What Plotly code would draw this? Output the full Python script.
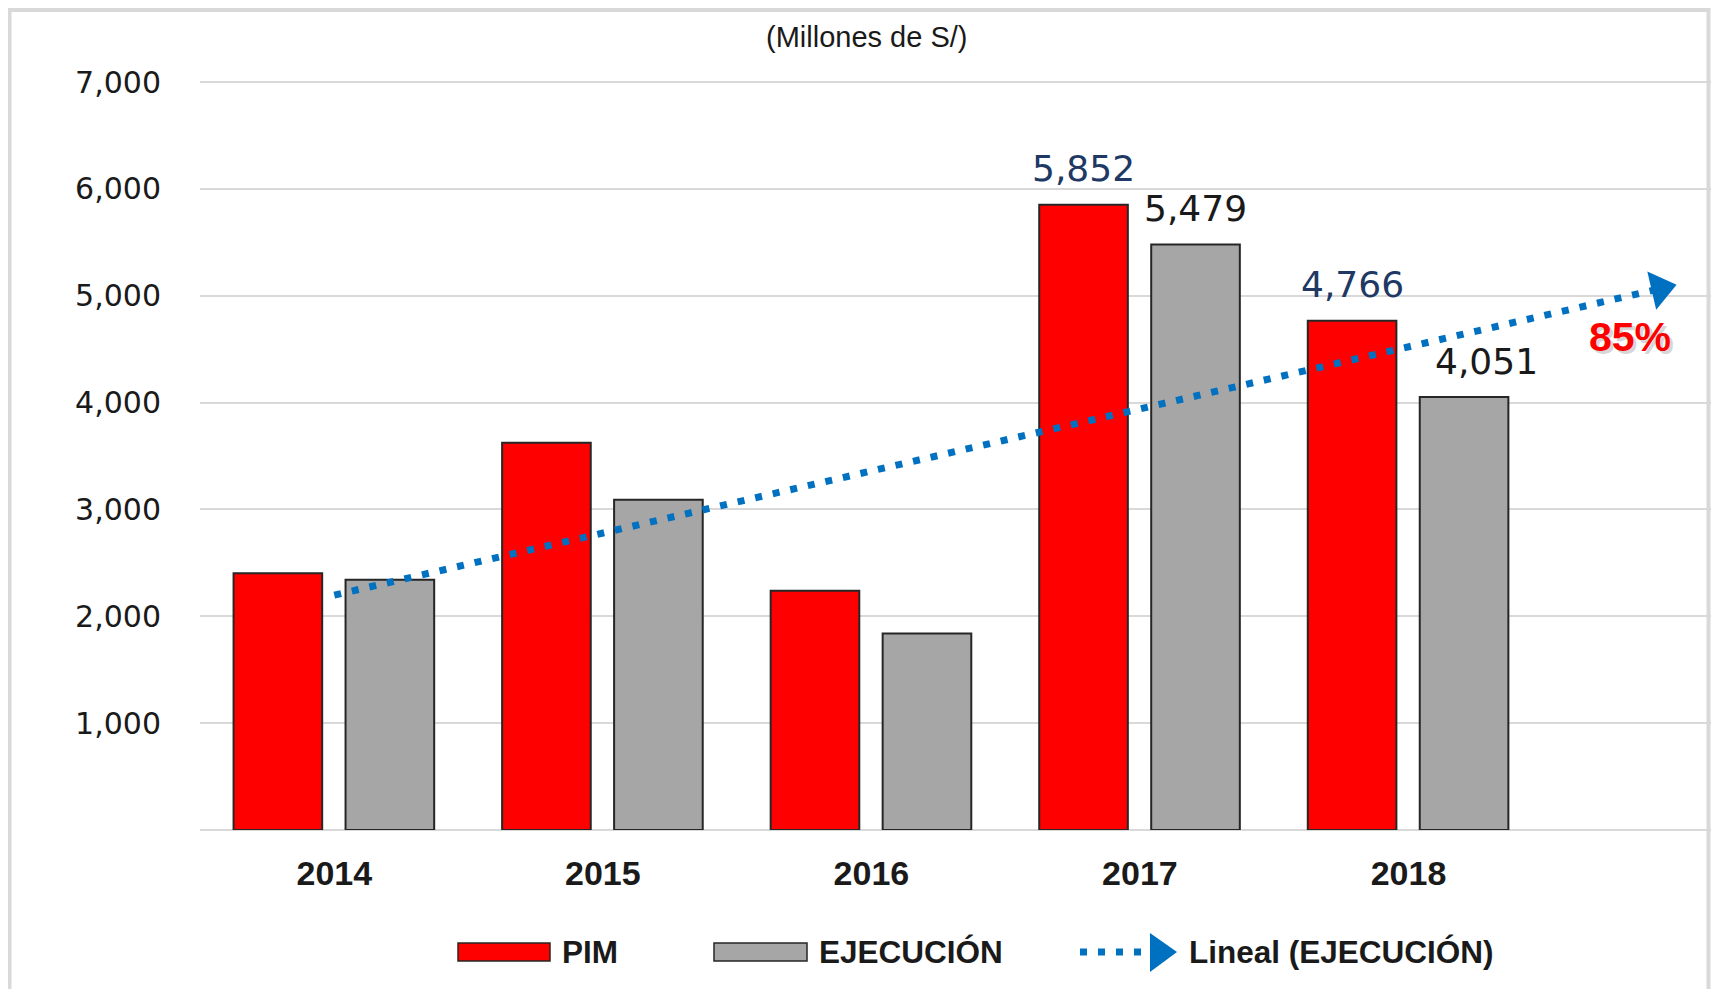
import numpy as np
import plotly.graph_objects as go

# ---- data ----
years = ["2014", "2015", "2016", "2017", "2018"]
pim = [2402, 3624, 2238, 5852, 4766]
ejecucion = [2341, 3090, 1838, 5479, 4051]
labeled_years = ["2017", "2018"]
y_ticks = [1000, 2000, 3000, 4000, 5000, 6000, 7000]
forecast_periods = 1

# ---- layout geometry (page pixels; the page body has an 8px margin) ----
OFF = 8
FW, FH = 1703, 981
PL, PR, PT, PB = 200, 1711, 71, 830          # plot area edges on the page
L, R, T, B = PL - OFF, OFF + FW - PR, PT - OFF, OFF + FH - PB
PW, PH = PR - PL, PB - PT
Y_TOP = 7000 * (PB - PT) / (PB - 82)          # 7,000 gridline sits at page y=82
UNIT_PX = 268.55                              # pixels per category
X_MAX = -0.5 + PW / UNIT_PX


def px_x(x):
    return (x - PL) / PW


def px_y(y):
    return (PB - y) / PH


idx = list(range(len(years)))
bw = 0.33
off_pim, off_ej = -0.375, 0.042
BLUE = "#0070C0"
NAVY = "#203864"
OUT = "#262626"
label_xshift = {("EJECUCIÓN", "2018"): 22}

fig = go.Figure()
fig.add_trace(go.Bar(x=idx, y=pim, width=bw, offset=off_pim, name="PIM",
                     marker=dict(color="#FF0000", line=dict(color=OUT, width=2)),
                     showlegend=False))
fig.add_trace(go.Bar(x=idx, y=ejecucion, width=bw, offset=off_ej, name="EJECUCIÓN",
                     marker=dict(color="#A6A6A6", line=dict(color=OUT, width=2)),
                     showlegend=False))

# linear trend of EJECUCIÓN with one period forecast
coef = np.polyfit(idx, ejecucion, 1)
x_end = len(years) - 1 + forecast_periods
tx = [0, x_end - 17 / UNIT_PX]
ty = list(np.polyval(coef, tx))
fig.add_trace(go.Scatter(x=tx, y=ty, mode="lines+markers", name="Lineal (EJECUCIÓN)",
                         line=dict(color=BLUE, width=7, dash="7px,11px"),
                         marker=dict(symbol="triangle-up", size=[0, 34], color=BLUE, opacity=1,
                                     angleref="previous", line=dict(width=0)),
                         showlegend=False, cliponaxis=False))

annotations = []
for i, yr in enumerate(years):
    if yr in labeled_years:
        for name, vals, off, col in [("PIM", pim, off_pim, NAVY),
                                     ("EJECUCIÓN", ejecucion, off_ej, "#1a1a1a")]:
            annotations.append(dict(x=i + off + bw / 2, y=vals[i], text=f"{vals[i]:,}",
                                    showarrow=False, yanchor="middle", yshift=36,
                                    xshift=label_xshift.get((name, yr), 0),
                                    font=dict(family="DejaVu Sans", size=36, color=col)))

pct = f"{round(100 * ejecucion[-1] / pim[-1])}%"
for dx, dy, col in [(3, -3, "rgba(0,0,0,0.18)"), (0, 0, "#FF0000")]:
    annotations.append(dict(x=4.825, y=4614, text=f"<b>{pct}</b>", showarrow=False,
                            xshift=dx, yshift=dy,
                            font=dict(family="Liberation Sans", size=41, color=col)))

# title
annotations.append(dict(xref="paper", yref="paper", x=px_x(866), y=px_y(37),
                        text="(Millones de S/)", showarrow=False, xanchor="center", yanchor="middle",
                        font=dict(family="Liberation Sans", size=29, color="#1a1a1a")))

# manual legend
leg_y = 952
legend_font = dict(family="Liberation Sans", size=31.5, color="#1a1a1a", weight="bold")
for x0, txt in [(560, "PIM"), (817, "EJECUCIÓN"), (1187, "Lineal (EJECUCIÓN)")]:
    annotations.append(dict(xref="paper", yref="paper", x=px_x(x0), y=px_y(leg_y), text=txt,
                            showarrow=False, xanchor="left", yanchor="middle", font=legend_font))

shapes = [
    dict(type="rect", xref="paper", yref="paper", x0=px_x(458), x1=px_x(550),
         y0=px_y(943), y1=px_y(961), fillcolor="#FF0000", line=dict(color=OUT, width=1.5)),
    dict(type="rect", xref="paper", yref="paper", x0=px_x(714), x1=px_x(807),
         y0=px_y(943), y1=px_y(961), fillcolor="#A6A6A6", line=dict(color=OUT, width=1.5)),
    dict(type="line", xref="paper", yref="paper", x0=px_x(1080), x1=px_x(1146),
         y0=px_y(leg_y), y1=px_y(leg_y), line=dict(color=BLUE, width=7, dash="7px,11px")),
    dict(type="path", xref="paper", yref="paper",
         path=f"M {px_x(1150)},{px_y(933)} L {px_x(1177)},{px_y(952)} L {px_x(1150)},{px_y(972)} Z",
         fillcolor=BLUE, line=dict(width=0)),
    # outer frame
    dict(type="rect", xref="paper", yref="paper", x0=px_x(9.5), x1=px_x(1708.5),
         y0=px_y(1010), y1=px_y(10), line=dict(color="#D9D9D9", width=4)),
]

fig.update_layout(
    width=FW, height=FH, autosize=False,
    margin=dict(l=L, r=R, t=T, b=B, pad=0),
    paper_bgcolor="white", plot_bgcolor="white",
    barmode="overlay",
    showlegend=False,
    annotations=annotations,
    shapes=shapes,
    xaxis=dict(range=[-0.5, X_MAX], tickmode="array", tickvals=idx, ticktext=years,
               showgrid=False, zeroline=False, showline=False, ticks="",
               tickfont=dict(family="Liberation Sans", size=34, color="#1a1a1a", weight="bold"),
               ticklabelstandoff=20, automargin=False, fixedrange=True),
    yaxis=dict(range=[0, Y_TOP], tickmode="array", tickvals=y_ticks, tickformat=",",
               showgrid=True, gridcolor="#D9D9D9", gridwidth=2,
               zeroline=True, zerolinecolor="#D9D9D9", zerolinewidth=2,
               showline=False, ticks="",
               tickfont=dict(family="DejaVu Sans", size=30, color="#1a1a1a"),
               ticklabelstandoff=38, automargin=False, fixedrange=True),
)

fig.write_html("out.html")
